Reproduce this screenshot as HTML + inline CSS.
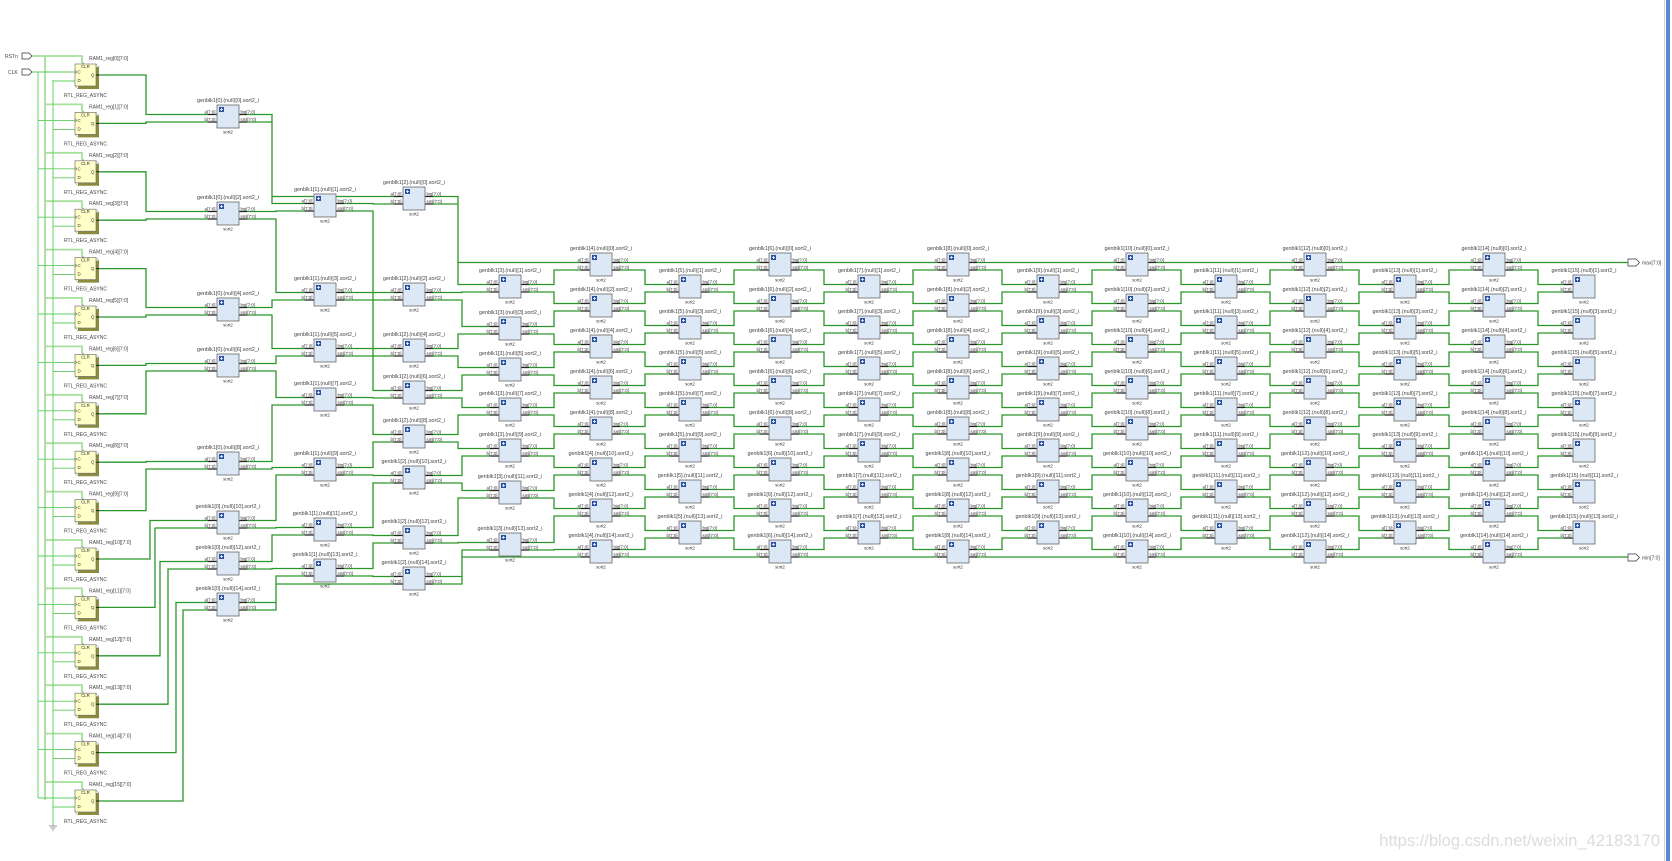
<!DOCTYPE html>
<html><head><meta charset="utf-8">
<style>
html,body{margin:0;padding:0;background:#fff;}
svg{display:block;font-family:"Liberation Sans",sans-serif;}
.l{font-size:5.4px;fill:#444;text-anchor:middle;}
.p{font-size:4.4px;fill:#333;}
.r{font-size:5px;fill:#444;}
</style></head><body>
<svg id="s" width="1672" height="861" viewBox="0 0 1672 861" xmlns="http://www.w3.org/2000/svg">
<defs>
<g id="b">
<path d="M-9 9.5H0M-9 17H0M22 9.5H30M22 17H30" stroke="#222" stroke-width="1.2"/>
<rect x="0" y="0" width="22" height="23" fill="#dde8f6" stroke="#666" stroke-width="0.8"/>
<rect x="2" y="2" width="5" height="5" fill="#2a52a0"/>
<path d="M4.5 3V6M3 4.5H6" stroke="#fff" stroke-width="0.8"/>
<text class="p" x="-1.5" y="8.3" text-anchor="end">a[7:0]</text>
<text class="p" x="-1.5" y="15.8" text-anchor="end">b[7:0]</text>
<text class="p" x="23.5" y="8.3">big[7:0]</text>
<text class="p" x="23.5" y="15.8">sml[7:0]</text>
<text class="p" x="11" y="28.5" text-anchor="middle">sort2</text>
</g>
<g id="e">
<path d="M-9 9.5H0M-9 17H0" stroke="#222" stroke-width="1.2"/>
<rect x="0" y="0" width="22" height="23" fill="#dde8f6" stroke="#666" stroke-width="0.8"/>
<rect x="2" y="2" width="5" height="5" fill="#2a52a0"/>
<path d="M4.5 3V6M3 4.5H6" stroke="#fff" stroke-width="0.8"/>
<text class="p" x="-1.5" y="8.3" text-anchor="end">a[7:0]</text>
<text class="p" x="-1.5" y="15.8" text-anchor="end">b[7:0]</text>
<text class="p" x="11" y="28.5" text-anchor="middle">sort2</text>
</g>
<g id="g">
<path d="M3 3H24V25H3Z" fill="#8c8c3c"/>
<rect x="0" y="0" width="21" height="22" fill="#ffffc8" stroke="#777" stroke-width="0.7"/>
<path d="M21 0L24 3M21 22L24 25M0 22L3 25" stroke="#777" stroke-width="0.5"/>
<path d="M0 6.5L2 8L0 9.5" fill="none" stroke="#333" stroke-width="0.5"/>
<path d="M7 0L8 -2L9 0" fill="#888"/>
<path d="M21 11H24" stroke="#222" stroke-width="1"/>
<text class="p" x="6" y="4">CLR</text>
<text class="p" x="2.5" y="9.5">C</text>
<text class="p" x="2.5" y="18">D</text>
<text class="p" x="16" y="12.5">Q</text>
</g>
</defs>
<g id="w"></g>
<path d="M22 53H29L32 56L29 59H22Z" fill="#fff" stroke="#333" stroke-width="0.7"/>
<path d="M22 69H29L32 72L29 75H22Z" fill="#fff" stroke="#333" stroke-width="0.7"/>
<text class="r" x="5" y="58">RSTn</text>
<text class="r" x="8" y="74">CLK</text>
<path d="M1628 259H1636L1639.5 262.5L1636 266H1628Z" fill="#fff" stroke="#333" stroke-width="0.7"/>
<text class="r" x="1642" y="264.5">max[7:0]</text>
<path d="M1628 554H1636L1639.5 557.5L1636 561H1628Z" fill="#fff" stroke="#333" stroke-width="0.7"/>
<text class="r" x="1642" y="559.5">min[7:0]</text>
<path d="M49 826H57M50.5 828H55.5M52 830H54" stroke="#777" stroke-width="0.8"/>
<g transform="translate(75,64)"><use href="#g"/><text class="r" x="14" y="-4">RAM1_reg[0][7:0]</text><text class="r" x="-11" y="33">RTL_REG_ASYNC</text></g>
<g transform="translate(75,112.4)"><use href="#g"/><text class="r" x="14" y="-4">RAM1_reg[1][7:0]</text><text class="r" x="-11" y="33">RTL_REG_ASYNC</text></g>
<g transform="translate(75,160.8)"><use href="#g"/><text class="r" x="14" y="-4">RAM1_reg[2][7:0]</text><text class="r" x="-11" y="33">RTL_REG_ASYNC</text></g>
<g transform="translate(75,209.2)"><use href="#g"/><text class="r" x="14" y="-4">RAM1_reg[3][7:0]</text><text class="r" x="-11" y="33">RTL_REG_ASYNC</text></g>
<g transform="translate(75,257.6)"><use href="#g"/><text class="r" x="14" y="-4">RAM1_reg[4][7:0]</text><text class="r" x="-11" y="33">RTL_REG_ASYNC</text></g>
<g transform="translate(75,306)"><use href="#g"/><text class="r" x="14" y="-4">RAM1_reg[5][7:0]</text><text class="r" x="-11" y="33">RTL_REG_ASYNC</text></g>
<g transform="translate(75,354.4)"><use href="#g"/><text class="r" x="14" y="-4">RAM1_reg[6][7:0]</text><text class="r" x="-11" y="33">RTL_REG_ASYNC</text></g>
<g transform="translate(75,402.8)"><use href="#g"/><text class="r" x="14" y="-4">RAM1_reg[7][7:0]</text><text class="r" x="-11" y="33">RTL_REG_ASYNC</text></g>
<g transform="translate(75,451.2)"><use href="#g"/><text class="r" x="14" y="-4">RAM1_reg[8][7:0]</text><text class="r" x="-11" y="33">RTL_REG_ASYNC</text></g>
<g transform="translate(75,499.6)"><use href="#g"/><text class="r" x="14" y="-4">RAM1_reg[9][7:0]</text><text class="r" x="-11" y="33">RTL_REG_ASYNC</text></g>
<g transform="translate(75,548)"><use href="#g"/><text class="r" x="14" y="-4">RAM1_reg[10][7:0]</text><text class="r" x="-11" y="33">RTL_REG_ASYNC</text></g>
<g transform="translate(75,596.4)"><use href="#g"/><text class="r" x="14" y="-4">RAM1_reg[11][7:0]</text><text class="r" x="-11" y="33">RTL_REG_ASYNC</text></g>
<g transform="translate(75,644.8)"><use href="#g"/><text class="r" x="14" y="-4">RAM1_reg[12][7:0]</text><text class="r" x="-11" y="33">RTL_REG_ASYNC</text></g>
<g transform="translate(75,693.2)"><use href="#g"/><text class="r" x="14" y="-4">RAM1_reg[13][7:0]</text><text class="r" x="-11" y="33">RTL_REG_ASYNC</text></g>
<g transform="translate(75,741.6)"><use href="#g"/><text class="r" x="14" y="-4">RAM1_reg[14][7:0]</text><text class="r" x="-11" y="33">RTL_REG_ASYNC</text></g>
<g transform="translate(75,790)"><use href="#g"/><text class="r" x="14" y="-4">RAM1_reg[15][7:0]</text><text class="r" x="-11" y="33">RTL_REG_ASYNC</text></g>
<g transform="translate(217,105)"><use href="#b"/><text class="l" x="11" y="-3">genblk1[0].(null)[0].sort2_i</text></g>
<g transform="translate(217,202)"><use href="#b"/><text class="l" x="11" y="-3">genblk1[0].(null)[2].sort2_i</text></g>
<g transform="translate(217,298)"><use href="#b"/><text class="l" x="11" y="-3">genblk1[0].(null)[4].sort2_i</text></g>
<g transform="translate(217,354)"><use href="#b"/><text class="l" x="11" y="-3">genblk1[0].(null)[6].sort2_i</text></g>
<g transform="translate(217,452)"><use href="#b"/><text class="l" x="11" y="-3">genblk1[0].(null)[8].sort2_i</text></g>
<g transform="translate(217,511)"><use href="#b"/><text class="l" x="11" y="-3">genblk1[0].(null)[10].sort2_i</text></g>
<g transform="translate(217,552)"><use href="#b"/><text class="l" x="11" y="-3">genblk1[0].(null)[12].sort2_i</text></g>
<g transform="translate(217,593)"><use href="#b"/><text class="l" x="11" y="-3">genblk1[0].(null)[14].sort2_i</text></g>
<g transform="translate(314,194)"><use href="#b"/><text class="l" x="11" y="-3">genblk1[1].(null)[1].sort2_i</text></g>
<g transform="translate(314,283)"><use href="#b"/><text class="l" x="11" y="-3">genblk1[1].(null)[3].sort2_i</text></g>
<g transform="translate(314,339)"><use href="#b"/><text class="l" x="11" y="-3">genblk1[1].(null)[5].sort2_i</text></g>
<g transform="translate(314,388)"><use href="#b"/><text class="l" x="11" y="-3">genblk1[1].(null)[7].sort2_i</text></g>
<g transform="translate(314,458)"><use href="#b"/><text class="l" x="11" y="-3">genblk1[1].(null)[9].sort2_i</text></g>
<g transform="translate(314,518)"><use href="#b"/><text class="l" x="11" y="-3">genblk1[1].(null)[11].sort2_i</text></g>
<g transform="translate(314,559)"><use href="#b"/><text class="l" x="11" y="-3">genblk1[1].(null)[13].sort2_i</text></g>
<g transform="translate(403,187)"><use href="#b"/><text class="l" x="11" y="-3">genblk1[2].(null)[0].sort2_i</text></g>
<g transform="translate(403,283)"><use href="#b"/><text class="l" x="11" y="-3">genblk1[2].(null)[2].sort2_i</text></g>
<g transform="translate(403,339)"><use href="#b"/><text class="l" x="11" y="-3">genblk1[2].(null)[4].sort2_i</text></g>
<g transform="translate(403,381)"><use href="#b"/><text class="l" x="11" y="-3">genblk1[2].(null)[6].sort2_i</text></g>
<g transform="translate(403,425)"><use href="#b"/><text class="l" x="11" y="-3">genblk1[2].(null)[8].sort2_i</text></g>
<g transform="translate(403,466)"><use href="#b"/><text class="l" x="11" y="-3">genblk1[2].(null)[10].sort2_i</text></g>
<g transform="translate(403,526)"><use href="#b"/><text class="l" x="11" y="-3">genblk1[2].(null)[12].sort2_i</text></g>
<g transform="translate(403,567)"><use href="#b"/><text class="l" x="11" y="-3">genblk1[2].(null)[14].sort2_i</text></g>
<g transform="translate(499,275)"><use href="#b"/><text class="l" x="11" y="-3">genblk1[3].(null)[1].sort2_i</text></g>
<g transform="translate(499,317)"><use href="#b"/><text class="l" x="11" y="-3">genblk1[3].(null)[3].sort2_i</text></g>
<g transform="translate(499,358)"><use href="#b"/><text class="l" x="11" y="-3">genblk1[3].(null)[5].sort2_i</text></g>
<g transform="translate(499,398)"><use href="#b"/><text class="l" x="11" y="-3">genblk1[3].(null)[7].sort2_i</text></g>
<g transform="translate(499,439)"><use href="#b"/><text class="l" x="11" y="-3">genblk1[3].(null)[9].sort2_i</text></g>
<g transform="translate(499,481)"><use href="#b"/><text class="l" x="11" y="-3">genblk1[3].(null)[11].sort2_i</text></g>
<g transform="translate(499,533)"><use href="#b"/><text class="l" x="11" y="-3">genblk1[3].(null)[13].sort2_i</text></g>
<g transform="translate(590,253)"><use href="#b"/><text class="l" x="11" y="-3">genblk1[4].(null)[0].sort2_i</text></g>
<g transform="translate(590,294)"><use href="#b"/><text class="l" x="11" y="-3">genblk1[4].(null)[2].sort2_i</text></g>
<g transform="translate(590,335)"><use href="#b"/><text class="l" x="11" y="-3">genblk1[4].(null)[4].sort2_i</text></g>
<g transform="translate(590,376)"><use href="#b"/><text class="l" x="11" y="-3">genblk1[4].(null)[6].sort2_i</text></g>
<g transform="translate(590,417)"><use href="#b"/><text class="l" x="11" y="-3">genblk1[4].(null)[8].sort2_i</text></g>
<g transform="translate(590,458)"><use href="#b"/><text class="l" x="11" y="-3">genblk1[4].(null)[10].sort2_i</text></g>
<g transform="translate(590,499)"><use href="#b"/><text class="l" x="11" y="-3">genblk1[4].(null)[12].sort2_i</text></g>
<g transform="translate(590,540)"><use href="#b"/><text class="l" x="11" y="-3">genblk1[4].(null)[14].sort2_i</text></g>
<g transform="translate(679,275)"><use href="#b"/><text class="l" x="11" y="-3">genblk1[5].(null)[1].sort2_i</text></g>
<g transform="translate(679,316)"><use href="#b"/><text class="l" x="11" y="-3">genblk1[5].(null)[3].sort2_i</text></g>
<g transform="translate(679,357)"><use href="#b"/><text class="l" x="11" y="-3">genblk1[5].(null)[5].sort2_i</text></g>
<g transform="translate(679,398)"><use href="#b"/><text class="l" x="11" y="-3">genblk1[5].(null)[7].sort2_i</text></g>
<g transform="translate(679,439)"><use href="#b"/><text class="l" x="11" y="-3">genblk1[5].(null)[9].sort2_i</text></g>
<g transform="translate(679,480)"><use href="#b"/><text class="l" x="11" y="-3">genblk1[5].(null)[11].sort2_i</text></g>
<g transform="translate(679,521)"><use href="#b"/><text class="l" x="11" y="-3">genblk1[5].(null)[13].sort2_i</text></g>
<g transform="translate(769,253)"><use href="#b"/><text class="l" x="11" y="-3">genblk1[6].(null)[0].sort2_i</text></g>
<g transform="translate(769,294)"><use href="#b"/><text class="l" x="11" y="-3">genblk1[6].(null)[2].sort2_i</text></g>
<g transform="translate(769,335)"><use href="#b"/><text class="l" x="11" y="-3">genblk1[6].(null)[4].sort2_i</text></g>
<g transform="translate(769,376)"><use href="#b"/><text class="l" x="11" y="-3">genblk1[6].(null)[6].sort2_i</text></g>
<g transform="translate(769,417)"><use href="#b"/><text class="l" x="11" y="-3">genblk1[6].(null)[8].sort2_i</text></g>
<g transform="translate(769,458)"><use href="#b"/><text class="l" x="11" y="-3">genblk1[6].(null)[10].sort2_i</text></g>
<g transform="translate(769,499)"><use href="#b"/><text class="l" x="11" y="-3">genblk1[6].(null)[12].sort2_i</text></g>
<g transform="translate(769,540)"><use href="#b"/><text class="l" x="11" y="-3">genblk1[6].(null)[14].sort2_i</text></g>
<g transform="translate(858,275)"><use href="#b"/><text class="l" x="11" y="-3">genblk1[7].(null)[1].sort2_i</text></g>
<g transform="translate(858,316)"><use href="#b"/><text class="l" x="11" y="-3">genblk1[7].(null)[3].sort2_i</text></g>
<g transform="translate(858,357)"><use href="#b"/><text class="l" x="11" y="-3">genblk1[7].(null)[5].sort2_i</text></g>
<g transform="translate(858,398)"><use href="#b"/><text class="l" x="11" y="-3">genblk1[7].(null)[7].sort2_i</text></g>
<g transform="translate(858,439)"><use href="#b"/><text class="l" x="11" y="-3">genblk1[7].(null)[9].sort2_i</text></g>
<g transform="translate(858,480)"><use href="#b"/><text class="l" x="11" y="-3">genblk1[7].(null)[11].sort2_i</text></g>
<g transform="translate(858,521)"><use href="#b"/><text class="l" x="11" y="-3">genblk1[7].(null)[13].sort2_i</text></g>
<g transform="translate(947,253)"><use href="#b"/><text class="l" x="11" y="-3">genblk1[8].(null)[0].sort2_i</text></g>
<g transform="translate(947,294)"><use href="#b"/><text class="l" x="11" y="-3">genblk1[8].(null)[2].sort2_i</text></g>
<g transform="translate(947,335)"><use href="#b"/><text class="l" x="11" y="-3">genblk1[8].(null)[4].sort2_i</text></g>
<g transform="translate(947,376)"><use href="#b"/><text class="l" x="11" y="-3">genblk1[8].(null)[6].sort2_i</text></g>
<g transform="translate(947,417)"><use href="#b"/><text class="l" x="11" y="-3">genblk1[8].(null)[8].sort2_i</text></g>
<g transform="translate(947,458)"><use href="#b"/><text class="l" x="11" y="-3">genblk1[8].(null)[10].sort2_i</text></g>
<g transform="translate(947,499)"><use href="#b"/><text class="l" x="11" y="-3">genblk1[8].(null)[12].sort2_i</text></g>
<g transform="translate(947,540)"><use href="#b"/><text class="l" x="11" y="-3">genblk1[8].(null)[14].sort2_i</text></g>
<g transform="translate(1037,275)"><use href="#b"/><text class="l" x="11" y="-3">genblk1[9].(null)[1].sort2_i</text></g>
<g transform="translate(1037,316)"><use href="#b"/><text class="l" x="11" y="-3">genblk1[9].(null)[3].sort2_i</text></g>
<g transform="translate(1037,357)"><use href="#b"/><text class="l" x="11" y="-3">genblk1[9].(null)[5].sort2_i</text></g>
<g transform="translate(1037,398)"><use href="#b"/><text class="l" x="11" y="-3">genblk1[9].(null)[7].sort2_i</text></g>
<g transform="translate(1037,439)"><use href="#b"/><text class="l" x="11" y="-3">genblk1[9].(null)[9].sort2_i</text></g>
<g transform="translate(1037,480)"><use href="#b"/><text class="l" x="11" y="-3">genblk1[9].(null)[11].sort2_i</text></g>
<g transform="translate(1037,521)"><use href="#b"/><text class="l" x="11" y="-3">genblk1[9].(null)[13].sort2_i</text></g>
<g transform="translate(1126,253)"><use href="#b"/><text class="l" x="11" y="-3">genblk1[10].(null)[0].sort2_i</text></g>
<g transform="translate(1126,294)"><use href="#b"/><text class="l" x="11" y="-3">genblk1[10].(null)[2].sort2_i</text></g>
<g transform="translate(1126,335)"><use href="#b"/><text class="l" x="11" y="-3">genblk1[10].(null)[4].sort2_i</text></g>
<g transform="translate(1126,376)"><use href="#b"/><text class="l" x="11" y="-3">genblk1[10].(null)[6].sort2_i</text></g>
<g transform="translate(1126,417)"><use href="#b"/><text class="l" x="11" y="-3">genblk1[10].(null)[8].sort2_i</text></g>
<g transform="translate(1126,458)"><use href="#b"/><text class="l" x="11" y="-3">genblk1[10].(null)[10].sort2_i</text></g>
<g transform="translate(1126,499)"><use href="#b"/><text class="l" x="11" y="-3">genblk1[10].(null)[12].sort2_i</text></g>
<g transform="translate(1126,540)"><use href="#b"/><text class="l" x="11" y="-3">genblk1[10].(null)[14].sort2_i</text></g>
<g transform="translate(1215,275)"><use href="#b"/><text class="l" x="11" y="-3">genblk1[11].(null)[1].sort2_i</text></g>
<g transform="translate(1215,316)"><use href="#b"/><text class="l" x="11" y="-3">genblk1[11].(null)[3].sort2_i</text></g>
<g transform="translate(1215,357)"><use href="#b"/><text class="l" x="11" y="-3">genblk1[11].(null)[5].sort2_i</text></g>
<g transform="translate(1215,398)"><use href="#b"/><text class="l" x="11" y="-3">genblk1[11].(null)[7].sort2_i</text></g>
<g transform="translate(1215,439)"><use href="#b"/><text class="l" x="11" y="-3">genblk1[11].(null)[9].sort2_i</text></g>
<g transform="translate(1215,480)"><use href="#b"/><text class="l" x="11" y="-3">genblk1[11].(null)[11].sort2_i</text></g>
<g transform="translate(1215,521)"><use href="#b"/><text class="l" x="11" y="-3">genblk1[11].(null)[13].sort2_i</text></g>
<g transform="translate(1304,253)"><use href="#b"/><text class="l" x="11" y="-3">genblk1[12].(null)[0].sort2_i</text></g>
<g transform="translate(1304,294)"><use href="#b"/><text class="l" x="11" y="-3">genblk1[12].(null)[2].sort2_i</text></g>
<g transform="translate(1304,335)"><use href="#b"/><text class="l" x="11" y="-3">genblk1[12].(null)[4].sort2_i</text></g>
<g transform="translate(1304,376)"><use href="#b"/><text class="l" x="11" y="-3">genblk1[12].(null)[6].sort2_i</text></g>
<g transform="translate(1304,417)"><use href="#b"/><text class="l" x="11" y="-3">genblk1[12].(null)[8].sort2_i</text></g>
<g transform="translate(1304,458)"><use href="#b"/><text class="l" x="11" y="-3">genblk1[12].(null)[10].sort2_i</text></g>
<g transform="translate(1304,499)"><use href="#b"/><text class="l" x="11" y="-3">genblk1[12].(null)[12].sort2_i</text></g>
<g transform="translate(1304,540)"><use href="#b"/><text class="l" x="11" y="-3">genblk1[12].(null)[14].sort2_i</text></g>
<g transform="translate(1394,275)"><use href="#b"/><text class="l" x="11" y="-3">genblk1[13].(null)[1].sort2_i</text></g>
<g transform="translate(1394,316)"><use href="#b"/><text class="l" x="11" y="-3">genblk1[13].(null)[3].sort2_i</text></g>
<g transform="translate(1394,357)"><use href="#b"/><text class="l" x="11" y="-3">genblk1[13].(null)[5].sort2_i</text></g>
<g transform="translate(1394,398)"><use href="#b"/><text class="l" x="11" y="-3">genblk1[13].(null)[7].sort2_i</text></g>
<g transform="translate(1394,439)"><use href="#b"/><text class="l" x="11" y="-3">genblk1[13].(null)[9].sort2_i</text></g>
<g transform="translate(1394,480)"><use href="#b"/><text class="l" x="11" y="-3">genblk1[13].(null)[11].sort2_i</text></g>
<g transform="translate(1394,521)"><use href="#b"/><text class="l" x="11" y="-3">genblk1[13].(null)[13].sort2_i</text></g>
<g transform="translate(1483,253)"><use href="#b"/><text class="l" x="11" y="-3">genblk1[14].(null)[0].sort2_i</text></g>
<g transform="translate(1483,294)"><use href="#b"/><text class="l" x="11" y="-3">genblk1[14].(null)[2].sort2_i</text></g>
<g transform="translate(1483,335)"><use href="#b"/><text class="l" x="11" y="-3">genblk1[14].(null)[4].sort2_i</text></g>
<g transform="translate(1483,376)"><use href="#b"/><text class="l" x="11" y="-3">genblk1[14].(null)[6].sort2_i</text></g>
<g transform="translate(1483,417)"><use href="#b"/><text class="l" x="11" y="-3">genblk1[14].(null)[8].sort2_i</text></g>
<g transform="translate(1483,458)"><use href="#b"/><text class="l" x="11" y="-3">genblk1[14].(null)[10].sort2_i</text></g>
<g transform="translate(1483,499)"><use href="#b"/><text class="l" x="11" y="-3">genblk1[14].(null)[12].sort2_i</text></g>
<g transform="translate(1483,540)"><use href="#b"/><text class="l" x="11" y="-3">genblk1[14].(null)[14].sort2_i</text></g>
<g transform="translate(1573,275)"><use href="#e"/><text class="l" x="11" y="-3">genblk1[15].(null)[1].sort2_i</text></g>
<g transform="translate(1573,316)"><use href="#e"/><text class="l" x="11" y="-3">genblk1[15].(null)[3].sort2_i</text></g>
<g transform="translate(1573,357)"><use href="#e"/><text class="l" x="11" y="-3">genblk1[15].(null)[5].sort2_i</text></g>
<g transform="translate(1573,398)"><use href="#e"/><text class="l" x="11" y="-3">genblk1[15].(null)[7].sort2_i</text></g>
<g transform="translate(1573,439)"><use href="#e"/><text class="l" x="11" y="-3">genblk1[15].(null)[9].sort2_i</text></g>
<g transform="translate(1573,480)"><use href="#e"/><text class="l" x="11" y="-3">genblk1[15].(null)[11].sort2_i</text></g>
<g transform="translate(1573,521)"><use href="#e"/><text class="l" x="11" y="-3">genblk1[15].(null)[13].sort2_i</text></g>
<text x="1660" y="846" text-anchor="end" style="font-size:16.5px;fill:#dcdcdc">https://blog.csdn.net/weixin_42183170</text>
<rect x="1664" y="0" width="1" height="861" fill="#d0d0d0"/>
<rect x="1666" y="0" width="4" height="861" fill="#5b88d4"/>
</svg>
<script>
(function(){
var NS="http://www.w3.org/2000/svg",W=document.getElementById("w"),d="",lt="",rs="";
var X=[217,314,403,499,590,679,769,858,947,1037,1126,1215,1304,1394,1483,1573];
var T=[{0:105,2:202,4:298,6:354,8:452,10:511,12:552,14:593},
{1:194,3:283,5:339,7:388,9:458,11:518,13:559},
{0:187,2:283,4:339,6:381,8:425,10:466,12:526,14:567},
{1:275,3:317,5:358,7:398,9:439,11:481,13:533}];
function top(c,i){if(c<4)return T[c][i];if(c%2==0)return 253+41*(i/2);return 275+41*((i-1)/2);}
var RJ=[146,146,146,146,146,146,146,146,146,146,150,155,160,168,176,183];
var src=[];
for(var k=0;k<16;k++){var rt=64+48.4*k;src.push({x:99,y:rt+11,j:RJ[k]});
 if(k>0){rs+="M45 "+(rt-8)+"H82V"+(rt-1);}
 lt+="M38 "+(rt+8)+"H75M53 "+(rt+17)+"H75";
}
rs+="M32 56H82V63M45 56V800";
lt+="M32 72H38V"+(790+8)+"M53 80V826";
function wire(s,dx,dy){if(Math.abs(s.y-dy)<0.1)d+="M"+s.x+" "+s.y+"H"+dx;else d+="M"+s.x+" "+s.y+"H"+s.j+"V"+dy+"H"+dx;}
for(var c=0;c<16;c++){
 for(var i=(c%2);i<15;i+=2){var t=top(c,i),dx=X[c]-9;
  wire(src[i],dx,t+9.5);wire(src[i+1],dx,t+17);
  if(c<15){var j=X[c]+22+33+(c<3?(i%4?4:0):0);src[i]={x:X[c]+30,y:t+9.5,j:j};src[i+1]={x:X[c]+30,y:t+17,j:j};}
 }
}
wire(src[0],1628,src[0].y);wire(src[15],1628,src[15].y);
function p(dd,col,w){var e=document.createElementNS(NS,"path");e.setAttribute("d",dd);e.setAttribute("fill","none");e.setAttribute("stroke",col);e.setAttribute("stroke-width",w);W.appendChild(e);}
p(rs,"#a6e09c",1.8);p(lt,"#5ccc5c",0.9);p(d,"#2a962a",1.3);
})();
</script>
</body></html>
